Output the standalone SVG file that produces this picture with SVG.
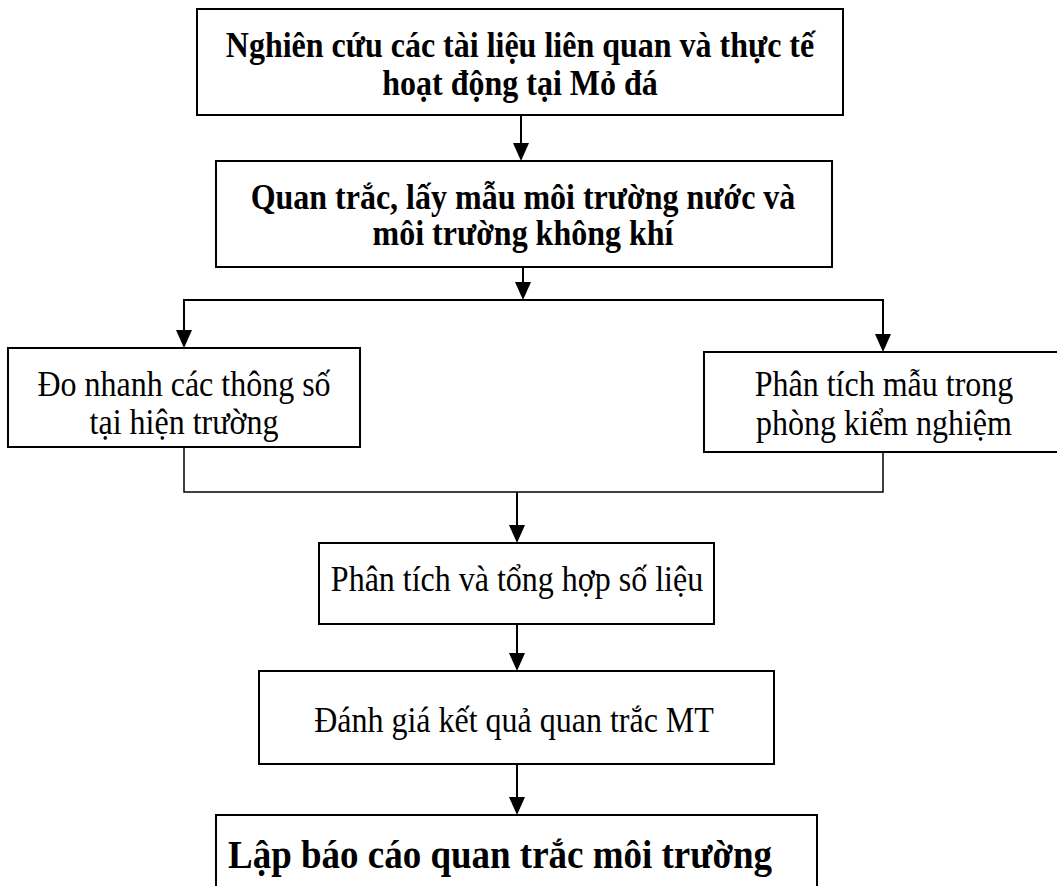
<svg xmlns="http://www.w3.org/2000/svg" width="1057" height="886" viewBox="0 0 1057 886">
  <style>
    .box { fill: #fff; stroke: #000; stroke-width: 2; }
    .t { font-family: "Liberation Serif", "Times New Roman", serif; font-size: 32px; fill: #000; text-anchor: middle; }
    .b { font-weight: bold; }
    .big { font-size: 37px; font-weight: bold; }
    .c { fill: none; stroke: #000; stroke-width: 2; }
    .thin { stroke-width: 1.5; }
  </style>
  <defs>
    <marker id="ah" markerUnits="userSpaceOnUse" markerWidth="18" markerHeight="16" viewBox="0 0 18 16" refX="8" refY="8" orient="auto">
      <path d="M0,0 L18,8 L0,16 Z" fill="#000"/>
    </marker>
  </defs>
  <rect width="1057" height="886" fill="#fff"/>

  <g id="connectors">
    <line class="c" x1="521" y1="115" x2="521" y2="151" marker-end="url(#ah)"/>
    <line class="c" x1="523" y1="267" x2="523" y2="290" marker-end="url(#ah)"/>
    <polyline class="c" points="184,338 184,300 883,300 883,342"/>
    <line class="c" x1="184" y1="330" x2="184" y2="338" marker-end="url(#ah)"/>
    <line class="c" x1="883" y1="334" x2="883" y2="342" marker-end="url(#ah)"/>
    <polyline class="c thin" points="184,447 184,492 883,492 883,452"/>
    <line class="c" x1="517" y1="492" x2="517" y2="533" marker-end="url(#ah)"/>
    <line class="c" x1="517" y1="624" x2="517" y2="661" marker-end="url(#ah)"/>
    <line class="c" x1="517" y1="764" x2="517" y2="805" marker-end="url(#ah)"/>
  </g>

  <g id="n1">
    <rect class="box" x="197" y="9" width="646" height="106"/>
    <text class="t b" transform="translate(520,57) scale(1,1.1)">Nghiên cứu các tài liệu liên quan và thực tế</text>
    <text class="t b" transform="translate(520,95) scale(1,1.1)">hoạt động tại Mỏ đá</text>
  </g>
  <g id="n2">
    <rect class="box" x="216" y="161" width="616" height="106"/>
    <text class="t b" transform="translate(523,209) scale(1,1.1)">Quan trắc, lấy mẫu môi trường nước và</text>
    <text class="t b" transform="translate(523,245) scale(1,1.1)">môi trường không khí</text>
  </g>
  <g id="n3">
    <rect class="box" x="8" y="348" width="352" height="99"/>
    <text class="t" transform="translate(184,396) scale(1,1.1)">Đo nhanh các thông số</text>
    <text class="t" transform="translate(184,434) scale(1,1.1)">tại hiện trường</text>
  </g>
  <g id="n4">
    <rect class="box" x="704" y="352" width="362" height="100"/>
    <text class="t" transform="translate(884,396) scale(1,1.1)">Phân tích mẫu trong</text>
    <text class="t" transform="translate(884,435) scale(1,1.1)">phòng kiểm nghiệm</text>
  </g>
  <g id="n5">
    <rect class="box" x="319" y="543" width="395" height="81"/>
    <text class="t" transform="translate(517,591) scale(1,1.1)">Phân tích và tổng hợp số liệu</text>
  </g>
  <g id="n6">
    <rect class="box" x="259" y="671" width="515" height="93"/>
    <text class="t" transform="translate(514,732) scale(1,1.1)">Đánh giá kết quả quan trắc MT</text>
  </g>
  <g id="n7">
    <rect class="box" x="216" y="815" width="601" height="90"/>
    <text class="t big" transform="translate(500,868) scale(1,1.1)">Lập báo cáo quan trắc môi trường</text>
  </g>
</svg>
